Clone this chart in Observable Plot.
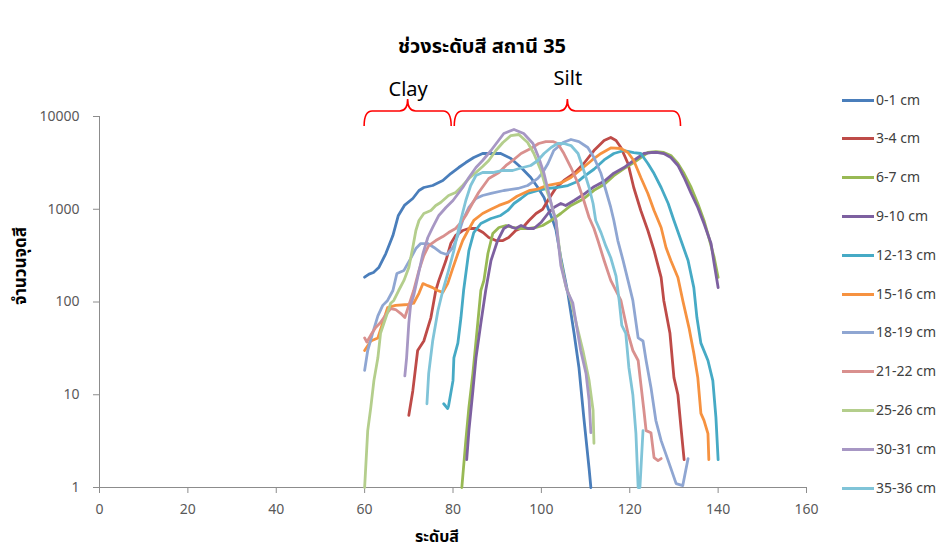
<!DOCTYPE html>
<html>
<head>
<meta charset="utf-8">
<script src="https://cdn.jsdelivr.net/npm/d3@7"></script>
<script src="https://cdn.jsdelivr.net/npm/@observablehq/plot@0.6"></script>
<style>
  html, body { margin: 0; padding: 0; background: #fff; }
  #wrap { position: relative; width: 944px; height: 551px; overflow: hidden; font-family: "Noto Sans Thai", "Noto Sans", "Open Sans", sans-serif; }
  #title { position: absolute; left: 0; width: 964px; top: 32px; text-align: center; font-size: 20px; font-weight: bold; color: #000; }
  #legend { position: absolute; left: 842px; top: 91px; }
  .item { position: absolute; left: 0; height: 18px; display: flex; align-items: center; white-space: nowrap; font-size: 14px; color: #404040; }
  .item .sw { width: 32px; height: 3px; margin-right: 2px; }
</style>
</head>
<body>
<div id="wrap">
  <div id="title">ช่วงระดับสี สถานี 35</div>
  <div id="chart"></div>
  <div id="legend"></div>
</div>
<script>
// ---- data ----
const seriesNames = ["0-1 cm","3-4 cm","6-7 cm","9-10 cm","12-13 cm","15-16 cm","18-19 cm","21-22 cm","25-26 cm","30-31 cm","35-36 cm"];
const seriesColors = ["#4A7EBB","#BE4B48","#98B954","#7D60A0","#46AAC5","#F69240","#8FA6D2","#D9908E","#B4CE8C","#A797C4","#80C4D8"];
const xTicks = [0,20,40,60,80,100,120,140,160];
const yTicks = [1,10,100,1000,10000];
const annoLabels = ["Clay","Silt"];
const annoStart = [60, 80.4];
const annoEnd = [79.7, 131.6];

const s0_1 = [[60,185],[61,200],[62,208],[63.2,235],[64.8,333],[66.4,520],[67.6,850],[69,1100],[70.9,1306],[72.3,1593],[73.4,1716],[75.4,1803],[77.7,2042],[79.5,2428],[81.3,2818],[82.9,3190],[84.7,3614],[86.7,3990],[88.6,3990],[90.8,3990],[93.1,3530],[95.4,2818],[97.6,2198],[99.2,1716],[100.6,1340],[101.7,970],[102.6,757],[103.3,600],[104.4,300],[106,124],[107.4,46],[108.5,19.7],[109.6,5.7],[110.8,1.6],[111.2,1]];
const s3_4 = [[70,6],[70.9,11],[72,30],[73.4,38],[75,68],[76.1,133],[76.8,171],[78.4,280],[79.5,427],[80.6,521],[82.2,590],[83.6,620],[85.2,620],[86.8,561],[88.1,496],[89.7,460],[91.3,460],[92.6,496],[94.2,590],[95.8,636],[97.2,757],[98.8,900],[100.3,1000],[101.7,1300],[103.3,1700],[105.1,2042],[107.4,2428],[109.6,3113],[111.9,4298],[114.2,5510],[115.7,5940],[116.9,5510],[118,4634],[119.6,3113],[120.9,1716],[122.5,970],[124.1,590],[125.5,359],[127.1,184],[127.7,104],[129.1,46],[130,15.3],[130.9,10],[131.6,4.4],[132.3,2]];
const s6_7 = [[82,1],[82.9,3.2],[83.6,7.3],[84.5,17],[85.6,59],[86.3,133],[87,171],[87.9,333],[89,548],[90.4,636],[92,668],[93.5,636],[94.9,620],[97.2,620],[98.8,636],[100.3,668],[102.2,757],[104.4,900],[106.7,1100],[109.6,1300],[111.9,1600],[114.2,1850],[116.4,2300],[118.7,2750],[120.9,3190],[122.5,3614],[124.1,4090],[125.9,4180],[127.7,4090],[129.3,3800],[130.9,3113],[132.3,2428],[133.9,1716],[135.4,1153],[136.8,757],[137.9,496],[139.1,302],[140,184]];
const s9_10 = [[83.1,2],[83.6,4.1],[84.5,11],[85.2,25],[86.3,59],[87.4,133],[88.6,280],[90.1,460],[91.5,620],[92.6,668],[93.5,636],[94.2,620],[95.4,668],[96.9,620],[98.3,620],[99.9,719],[101.5,900],[102.8,1045],[104.4,1153],[105.5,1097],[107.4,1243],[109.6,1450],[111.9,1750],[114.2,2000],[116.4,2450],[118.7,2818],[120.9,3355],[123.2,3990],[124.8,4090],[126.4,4090],[127.7,3990],[129.3,3614],[130.9,2964],[132.3,2198],[133.9,1479],[135.4,1045],[136.8,702],[138.4,427],[139.1,260],[140,143]];
const s12_13 = [[77.9,8],[78.8,7.1],[79,7.6],[80,14.2],[80.2,25],[81.1,36],[81.8,68],[82.4,133],[83.6,359],[84.7,561],[86.3,702],[88.6,795],[90.8,857],[92.4,970],[93.8,1153],[95.4,1306],[96.9,1479],[99.2,1593],[101.5,1675],[103.7,1716],[106,1800],[108.3,2000],[109.6,2250],[111.9,2700],[114.2,3400],[116.4,3990],[118.7,4298],[120.9,4090],[122.5,3990],[124.1,3113],[125.5,2428],[127.1,1716],[128.7,1153],[130,757],[131.6,460],[133.2,280],[134.5,143],[135.2,68],[136.1,36],[137.7,23.4],[138.8,14.2],[139.5,5.7],[140,2]];
const s15_16 = [[60,30],[61.4,38],[63,41],[65.2,87],[67,92],[69.8,94],[71.1,97],[72.3,124],[73.2,158],[74.3,150],[75.4,143],[76.5,133],[77.7,127],[78.8,158],[80,235],[81.1,333],[82.2,460],[83.4,590],[84.7,757],[86.7,900],[88.6,1000],[90.4,1100],[92.6,1200],[94.5,1380],[97.4,1600],[99.2,1650],[101.2,1800],[104.4,1920],[106.7,2198],[109,2700],[111.5,3400],[113.5,4000],[115.7,4580],[118,4520],[119.6,4090],[120.9,3355],[122.5,2198],[124.1,1479],[125.5,970],[127.1,636],[128.2,387],[129.3,280],[130.9,184],[132,104],[133.4,53],[134.5,28],[135.4,15.3],[136.1,6.3],[136.8,5.3],[137.7,3.8],[137.9,2]];
const s18_19 = [[60,18.3],[60.7,30],[61.8,46],[63,71],[64.1,92],[65.2,104],[66.4,133],[67.3,203],[68.9,219],[70.4,294],[71.6,377],[72.7,427],[74.3,427],[75.7,387],[77.2,342],[78.6,325],[80,387],[81.1,521],[82.2,757],[83.6,1045],[85.2,1306],[86.7,1407],[88.6,1479],[91.5,1593],[94.7,1675],[96.9,1803],[99.2,2147],[100.3,2489],[101.5,3113],[102.8,4298],[104.9,5248],[106.7,5650],[108.5,5370],[110.5,4634],[111.9,3614],[113.5,2428],[114.6,1593],[115.7,1045],[116.4,757],[117.3,460],[118.5,280],[119.6,171],[120.7,104],[121.9,41],[123,38],[123.7,23.4],[124.8,12],[125.9,5.3],[127.1,3.2],[128.7,1.95],[130.5,1.1],[132,1.05],[133.2,2.05]];
const s21_22 = [[60,41],[60.5,37],[61.4,44],[62.5,53],[63.6,60],[64.8,73],[65.9,85],[67,83],[68.2,75],[69.1,68],[70,92],[71.1,133],[72.3,219],[73.4,317],[74.5,406],[76.1,460],[77.7,508],[79,561],[80.6,620],[81.8,719],[82.9,857],[84.5,1183],[85.8,1517],[88.1,2147],[90.4,2489],[92,2964],[93.5,3355],[95.4,3990],[97.6,4520],[99.4,5117],[101,5370],[102.6,5370],[103.7,5117],[105.1,3990],[106.7,2818],[108.3,1895],[109.6,1243],[110.8,815],[111.9,620],[112.8,460],[114.2,280],[115.7,171],[118,104],[119.6,46],[120.7,30],[121.9,23.4],[122.5,13.2],[123.2,6.8],[123.7,4.1],[124.8,3.9],[125.5,2.1],[126.4,1.95],[127.1,2.05]];
const s25_26 = [[60,1],[60.7,4.1],[61.4,7.3],[62.1,14.2],[63,25],[63.6,46],[64.8,68],[65.9,97],[66.6,104],[67.7,133],[68.9,171],[70,235],[70.9,387],[71.6,590],[72.3,757],[73.4,900],[75,970],[76.1,1097],[77.2,1183],[79,1407],[80.6,1517],[82.2,1803],[83.6,2147],[85.2,2489],[86.7,2890],[88.1,3355],[89.7,4298],[91.3,5248],[93.1,6237],[94.9,6397],[96.9,5248],[98.3,3990],[99.9,2618],[101,1716],[102.2,1153],[103.3,757],[104.4,280],[105.5,150],[106.7,104],[108,56],[109.4,30],[110.8,14.2],[111.7,6.8],[111.9,3]];
const s30_31 = [[69.1,16],[69.5,25],[70,59],[70.4,92],[71.1,117],[72,184],[73.2,333],[74.3,496],[75.4,636],[76.8,857],[78.4,1045],[80,1243],[82.2,1716],[83.6,2198],[85.2,2818],[86.7,3355],[88.6,4298],[91.5,6561],[93.8,7244],[96,6561],[98.1,5117],[99.4,3614],[100.6,2428],[101.7,1479],[102.6,970],[103.3,757],[104.4,248],[105.8,133],[107.1,98],[108.9,30],[110.1,17],[110.8,8.7],[111.2,3.9]];
const s35_36 = [[74.1,8],[74.5,17],[75.4,38],[76.6,81],[77.7,133],[79,219],[80.2,359],[81.3,620],[82.2,922],[82.9,1243],[84,1803],[85.2,2312],[86.7,2489],[89,2489],[91.3,2618],[93.5,2618],[95.8,2818],[97.6,2964],[99.2,3355],[100.6,3990],[102.2,4634],[103.7,5117],[105.1,5117],[106.7,4864],[108.3,3990],[109.6,2618],[110.8,1716],[111.7,1153],[112.3,757],[113.5,560],[114.6,400],[115.7,300],[116.9,190],[117.6,104],[118.2,56],[119.1,46],[119.8,19.7],[120.7,10],[121.4,3.8],[121.9,1],[122.3,1],[123,4.1]];

const seriesData = [s0_1,s3_4,s6_7,s9_10,s12_13,s15_16,s18_19,s21_22,s25_26,s30_31,s35_36];

// ---- build table ----
const rows = [];
seriesData.forEach((arr, i) => arr.forEach(([x, y]) => rows.push({series: seriesNames[i], x, y})));
const annos = annoLabels.map((label, i) => ({label, x1: annoStart[i], x2: annoEnd[i], xm: (annoStart[i] + annoEnd[i]) / 2}));

const FONT = '"Noto Sans Thai", "Noto Sans", "Open Sans", sans-serif';

const plot = Plot.plot({
  width: 944,
  height: 551,
  marginLeft: 99,
  marginRight: 138,
  marginTop: 116,
  marginBottom: 64,
  style: {fontFamily: FONT, color: "#595959", background: "transparent", overflow: "visible"},
  x: {domain: [0, 160]},
  y: {type: "log", domain: [1, 10000]},
  color: {domain: seriesNames, range: seriesColors},
  marks: [
    Plot.ruleX([0], {stroke: "#8c8c8c", strokeWidth: 1}),
    Plot.ruleY([1], {stroke: "#8c8c8c", strokeWidth: 1}),
    Plot.axisX({ticks: xTicks, tickSize: 6, tickPadding: 11, fontSize: 14, label: null, stroke: "#8c8c8c", fill: "#595959"}),
    Plot.axisY({ticks: yTicks, tickFormat: d => String(d), tickSize: 6, tickPadding: 14, fontSize: 14, label: null, stroke: "#8c8c8c", fill: "#595959"}),
    Plot.line(rows, {x: "x", y: "y", z: "series", stroke: "series", strokeWidth: 2.8, strokeLinejoin: "round", strokeLinecap: "round"}),
    Plot.text(annos.slice(0, 1), {x: "xm", text: "label", frameAnchor: "top", dy: -35, fontSize: 20, fill: "#000", fontFamily: FONT}),
    Plot.text(annos.slice(1), {x: "xm", text: "label", frameAnchor: "top", dy: -46, fontSize: 20, fill: "#000", fontFamily: FONT})
  ]
});
document.getElementById("chart").appendChild(plot);

// Braces above the plot, positioned through the x scale
const xs = plot.scale("x");
const svg = d3.select(plot);
const yH = 111, yEnd = 126, yPeak = 99, r = 8;
annos.forEach(a => {
  const x1 = xs.apply(a.x1), x2 = xs.apply(a.x2), xm = xs.apply(a.xm);
  const d = `M${x1},${yEnd} Q${x1},${yH} ${x1 + r},${yH} L${xm - r},${yH} Q${xm},${yH} ${xm},${yPeak} Q${xm},${yH} ${xm + r},${yH} L${x2 - r},${yH} Q${x2},${yH} ${x2},${yEnd}`;
  svg.append("path").attr("d", d).attr("fill", "none").attr("stroke", "#FF0000").attr("stroke-width", 1.6);
});

// Axis titles
svg.append("text").attr("x", 437).attr("y", 542).attr("text-anchor", "middle")
  .attr("font-size", 16).attr("font-weight", "bold").attr("fill", "#000").attr("font-family", FONT).text("ระดับสี");
svg.append("text").attr("transform", "translate(26,266) rotate(-90)").attr("text-anchor", "middle")
  .attr("font-size", 17).attr("font-weight", "bold").attr("fill", "#000").attr("font-family", FONT).text("จำนวนจุดสี");

// Legend
const legend = document.getElementById("legend");
seriesNames.forEach((name, i) => {
  const item = document.createElement("div");
  item.className = "item";
  item.style.top = (i * 38.8) + "px";
  const sw = document.createElement("span");
  sw.className = "sw";
  sw.style.background = seriesColors[i];
  const t = document.createElement("span");
  t.textContent = name;
  item.appendChild(sw);
  item.appendChild(t);
  legend.appendChild(item);
});
</script>
</body>
</html>
